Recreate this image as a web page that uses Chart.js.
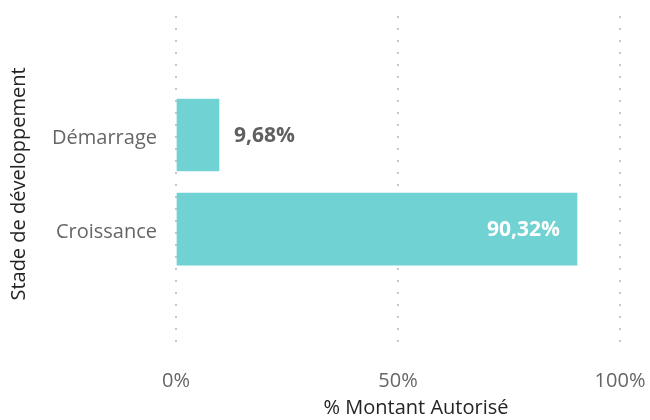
<!DOCTYPE html>
<html>
<head>
<meta charset="utf-8">
<script src="https://cdn.jsdelivr.net/npm/chart.js@4.4.1/dist/chart.umd.min.js"></script>
<style>
  html, body { margin: 0; padding: 0; background: #fff; }
  #wrap { width: 650px; height: 420px; }
</style>
</head>
<body>
<div id="wrap"><canvas id="my-chart"></canvas></div>
<script>
'use strict';
// data
let categories = ['Démarrage', 'Croissance']
let montantPct = [9.68, 90.32]
let xTicks = [0, 50, 100]
let xTitle = '% Montant Autorisé'
let yTitle = 'Stade de développement'

const barColor = '#70d2d2'
const fontFamily = "'Open Sans', 'Noto Sans', sans-serif"

// value labels, outside for short bars, inside for long ones
const valueLabels = {
  id: 'valueLabels',
  afterDatasetsDraw(chart) {
    const ctx = chart.ctx
    const meta = chart.getDatasetMeta(0)
    ctx.save()
    ctx.font = 'bold 21px ' + fontFamily
    ctx.textBaseline = 'middle'
    meta.data.forEach(function (bar, i) {
      let text = montantPct[i].toFixed(2).replace('.', ',') + '%'
      let w = ctx.measureText(text).width
      if (bar.x - bar.base > w + 40) {
        ctx.fillStyle = '#ffffff'
        ctx.textAlign = 'right'
        ctx.fillText(text, bar.x - 17, bar.y + 1)
      } else {
        ctx.fillStyle = '#5f5f5f'
        ctx.textAlign = 'left'
        ctx.fillText(text, bar.x + 15, bar.y + 1)
      }
    })
    // x axis title, centred on the space right of the y axis
    const area = chart.chartArea
    ctx.font = '20px ' + fontFamily
    ctx.fillStyle = '#252423'
    ctx.textAlign = 'center'
    ctx.fillText(xTitle, (area.left + chart.width) / 2 + 3, chart.height - 12)
    ctx.restore()
  }
}

const ctx = document.getElementById('my-chart').getContext('2d')
const myChart = new Chart(ctx, {
  type: 'bar',
  data: {
    datasets: [{
      data: montantPct.map(function (v, i) { return { x: v, y: i } }),
      backgroundColor: barColor,
      borderWidth: 0,
      barThickness: 72
    }]
  },
  options: {
    indexAxis: 'y',
    responsive: true,
    maintainAspectRatio: false,
    animation: false,
    layout: { padding: { top: 16, right: 30, bottom: 0, left: 0 } },
    plugins: {
      legend: { display: false },
      tooltip: { enabled: false }
    },
    scales: {
      x: {
        type: 'linear',
        min: 0,
        max: 100,
        afterBuildTicks(scale) {
          scale.ticks = xTicks.map(function (v) { return { value: v } })
        },
        afterFit(scale) {
          scale.height = 68
          scale.paddingLeft = 0
          scale.paddingRight = 0
        },
        ticks: {
          color: '#666666',
          padding: 17,
          maxRotation: 0,
          font: { family: fontFamily, size: 20 },
          callback: function (v) { return v + '%' }
        },
        grid: {
          color: '#c8c8c8',
          lineWidth: 2,
          drawTicks: false
        },
        border: { display: false, dash: [2, 10] },
        title: { display: false }
      },
      y: {
        type: 'linear',
        reverse: true,
        offset: false,
        min: -1.265,
        max: 2.306,
        afterBuildTicks(scale) {
          scale.ticks = categories.map(function (c, i) { return { value: i } })
        },
        afterFit(scale) {
          scale.width = 176
          scale.paddingTop = 0
          scale.paddingBottom = 0
        },
        ticks: {
          color: '#666666',
          padding: 19,
          labelOffset: 3,
          font: { family: fontFamily, size: 20 },
          callback: function (v) { return categories[v] }
        },
        grid: { display: false, drawTicks: false },
        border: { display: false },
        title: {
          display: true,
          text: yTitle,
          color: '#252423',
          font: { family: fontFamily, size: 20 },
          padding: { top: 7, bottom: 0 }
        }
      }
    }
  },
  plugins: [valueLabels]
})
console.log(myChart)
</script>
</body>
</html>
